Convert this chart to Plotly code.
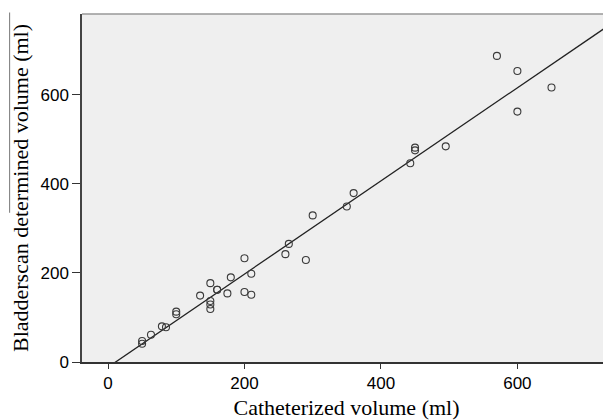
import numpy as np
import plotly.graph_objects as go

catheterized = [570, 600, 650, 600, 450, 450, 495, 443, 360, 350, 300, 265, 260, 290,
                200, 210, 180, 150, 160, 160, 135, 175, 200, 210, 150, 150, 150,
                100, 100, 79, 85, 63, 50, 50]
bladderscan = [687, 653, 616, 562, 481, 475, 484, 446, 379, 349, 329, 265, 242, 229,
               233, 198, 190, 177, 162, 162, 149, 154, 157, 151, 137, 129, 119,
               113, 107, 80, 78, 61, 47, 41]

x_ticks = [0, 200, 400, 600]
y_ticks = [0, 200, 400, 600]
x_range = [-38.1, 737.2]
y_range = [0, 781]

slope, intercept = np.polyfit(catheterized, bladderscan, 1)
line_x = np.array(x_range)
line_y = slope * line_x + intercept

fig = go.Figure()
fig.add_trace(go.Scatter(x=line_x, y=line_y, mode="lines",
                         line=dict(color="#222222", width=1.3),
                         hoverinfo="skip", showlegend=False, cliponaxis=True))
fig.add_trace(go.Scatter(x=catheterized, y=bladderscan, mode="markers",
                         marker=dict(symbol="circle-open", size=7,
                                     color="#3a3a3a", line=dict(width=1.1)),
                         showlegend=False, cliponaxis=True))

# page body has an 8px margin; figure sized to fill the rest of the 611x420 window
fig.update_layout(
    width=603, height=412,
    margin=dict(l=74, r=0, t=6, b=58),
    paper_bgcolor="white",
    plot_bgcolor="#efefef",
    font=dict(family="Liberation Sans, Arial", size=14, color="black"),
    xaxis=dict(range=x_range, tickvals=x_ticks, showgrid=False, zeroline=False,
               automargin=False,
               ticks="outside", ticklen=5, tickcolor="#333", tickwidth=1.2,
               showline=True, linecolor="#333", linewidth=1.5,
               tickfont=dict(family="Liberation Sans, Arial", size=17),
               title=dict(text="Catheterized volume (ml)", standoff=7,
                          font=dict(family="Liberation Serif, Times New Roman", size=22))),
    yaxis=dict(range=y_range, tickvals=y_ticks, showgrid=False, zeroline=False,
               automargin=False,
               ticks="outside", ticklen=8, tickcolor="#333", tickwidth=1.2,
               showline=True, linecolor="#444", linewidth=1.5,
               tickfont=dict(family="Liberation Sans, Arial", size=17),
               title=dict(text="Bladderscan determined volume (ml)", standoff=9,
                          font=dict(family="Liberation Serif, Times New Roman", size=22))),
    shapes=[
        dict(type="line", xref="paper", yref="paper", x0=0, x1=1, y0=1, y1=1,
             line=dict(color="#999999", width=1.5)),
        dict(type="line", xref="paper", yref="paper", x0=-0.1368, x1=-0.1368,
             y0=0.4288, y1=1.0043, line=dict(color="#777777", width=1)),
    ],
)

fig.write_html("out.html")
